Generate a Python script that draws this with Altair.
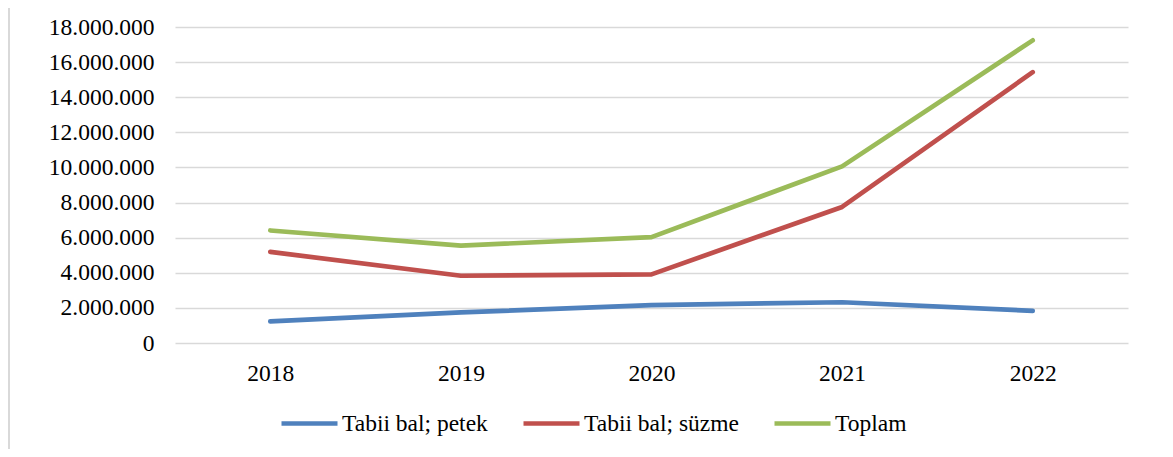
import altair as alt
import pandas as pd

years = ["2018", "2019", "2020", "2021", "2022"]
series_names = ["Tabii bal; petek", "Tabii bal; süzme", "Toplam"]
petek = [1230000, 1740000, 2160000, 2320000, 1830000]
suzme = [5190000, 3830000, 3910000, 7750000, 15430000]
toplam = [6410000, 5550000, 6030000, 10060000, 17240000]
y_ticks = [0, 2000000, 4000000, 6000000, 8000000, 10000000, 12000000, 14000000, 16000000, 18000000]
colors = ["#4F81BD", "#C0504D", "#9BBB59"]

rows = []
for name, vals in zip(series_names, [petek, suzme, toplam]):
    for yr, v in zip(years, vals):
        rows.append({"Yıl": yr, "Seri": name, "Değer": v})
df = pd.DataFrame(rows)

FONT = "Liberation Serif"
FS = 23.5
W, H = 953, 316

lines = alt.Chart(df).mark_line(strokeWidth=4.7, strokeCap="round", strokeJoin="round").encode(
    x=alt.X("Yıl:O", sort=years,
            scale=alt.Scale(type="point", padding=0.5),
            axis=alt.Axis(title=None, labelAngle=0, ticks=False, domain=False, grid=False,
                          labelPadding=18, labelFont=FONT, labelFontSize=FS, labelColor="black")),
    y=alt.Y("Değer:Q",
            scale=alt.Scale(domain=[0, 18000000], nice=False),
            axis=alt.Axis(title=None, values=y_ticks, format=",d", ticks=False, domain=False,
                          grid=True, gridColor="#d9d9d9", gridWidth=1.6,
                          labelPadding=21, labelFont=FONT, labelFontSize=FS, labelColor="black")),
    color=alt.Color("Seri:N", sort=series_names,
                    scale=alt.Scale(domain=series_names, range=colors),
                    legend=alt.Legend(title=None, orient="none", direction="horizontal",
                                      legendX=104, legendY=366,
                                      symbolType="stroke", symbolSize=3136, symbolStrokeWidth=4.7,
                                      labelFont=FONT, labelFontSize=FS, labelColor="black",
                                      labelOffset=2, columnPadding=26, padding=0)),
)

frame_data = alt.Data(values=[{"k": 1}])
frame = alt.Chart(frame_data).mark_rect(fill=None, fillOpacity=0, stroke="#d9d9d9", strokeWidth=2).encode(
    x=alt.value(-166), x2=alt.value(1030), y=alt.value(-22.5), y2=alt.value(470))

chart = alt.layer(frame, lines).properties(
    width=W, height=H,
    autosize=alt.AutoSizeParams(type="none"),
    padding={"left": 167, "top": 19, "right": 35, "bottom": 106},
).configure(
    locale={"number": {"decimal": ",", "thousands": ".", "grouping": [3], "currency": ["", ""]}}
).configure_view(stroke=None)

chart.save("out.html", embed_options={"renderer": "svg", "actions": False})
